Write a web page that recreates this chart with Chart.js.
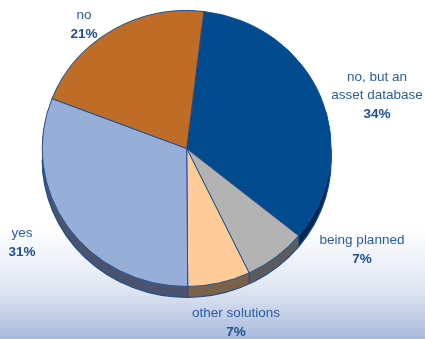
<!DOCTYPE html>
<html>
<head>
<meta charset="utf-8">
<script src="https://cdn.jsdelivr.net/npm/chart.js@4/dist/chart.umd.min.js"></script>
<style>
  html, body { margin: 0; padding: 0; }
  body {
    width: 425px; height: 339px; overflow: hidden;
    background: linear-gradient(to bottom, #ffffff 0%, #ffffff 67%, #e1e6f3 85%, #a9b9dd 100%);
  }
  #wrap { position: relative; width: 425px; height: 339px; }
</style>
</head>
<body>
<div id="wrap"><canvas id="pie" width="425" height="339"></canvas></div>
<script>
// Survey answers, clockwise from the top
const categories = ['no, but an asset database', 'being planned', 'other solutions', 'yes', 'no'];
const shares = [34, 7, 7, 31, 21];
const labelLines = [['no, but an', 'asset database'], ['being planned'], ['other solutions'], ['yes'], ['no']];
const topColors = ['#034b8f', '#b3b3b3', '#ffcc99', '#97afd8', '#bf6d26'];
const sideColors = ['#06284f', '#5c5c5c', '#7c624a', '#4a5470', '#6e4018'];
// label anchor (centre x, first-line y) for each slice
const labelPos = [[377, 77], [362, 240], [236, 313], [22, 233], [84, 15]];

const SQUASH = 0.955;   // vertical flattening of the disc
const DEPTH = 11;       // thickness of the disc edge in pixels
const EDGE = '#1d4f91';

const tiltPlugin = {
  id: 'tilt',
  beforeDatasetsDraw(chart) {
    const ctx = chart.ctx;
    const arcs = chart.getDatasetMeta(0).data;
    const cx = arcs[0].x, cy = arcs[0].y, r = arcs[0].outerRadius;
    ctx.save();
    ctx.translate(cx, cy); ctx.scale(1, SQUASH); ctx.translate(-cx, -cy);
    const d = DEPTH / SQUASH;
    // edge of the disc: stacked sectors shifted downward
    for (let k = d; k >= 0.5; k -= 0.5) {
      arcs.forEach((a, i) => {
        ctx.beginPath();
        ctx.moveTo(cx, cy + k);
        ctx.arc(cx, cy + k, r, a.startAngle, a.endAngle);
        ctx.closePath();
        ctx.fillStyle = sideColors[i];
        ctx.fill();
      });
    }
    // outline of the lower rim
    ctx.beginPath();
    ctx.arc(cx, cy + d, r, 0, Math.PI);
    ctx.strokeStyle = EDGE;
    ctx.lineWidth = 1.2;
    ctx.stroke();
    // seams between slices on the visible front
    arcs.forEach(a => {
      const ang = a.startAngle;
      const s = Math.sin(ang);
      if (s > 0) {
        const x = cx + r * Math.cos(ang), y = cy + r * s;
        ctx.beginPath();
        ctx.moveTo(x, y); ctx.lineTo(x, y + d);
        ctx.lineWidth = 1.2;
        ctx.stroke();
      }
    });
    ctx.restore();
    // flatten the top face as well
    ctx.save();
    ctx.translate(cx, cy); ctx.scale(1, SQUASH); ctx.translate(-cx, -cy);
  },
  afterDatasetsDraw(chart) {
    chart.ctx.restore();
    // slice labels
    const ctx = chart.ctx;
    ctx.save();
    ctx.textAlign = 'center';
    ctx.textBaseline = 'middle';
    categories.forEach((c, i) => {
      const [x, y] = labelPos[i];
      let yy = y;
      ctx.fillStyle = '#2b5c9e';
      ctx.font = '13.5px "Liberation Sans", Arial, sans-serif';
      labelLines[i].forEach(line => { ctx.fillText(line, x, yy); yy += 18.5; });
      ctx.fillStyle = '#1f4f8f';
      ctx.font = 'bold 13.5px "Liberation Sans", Arial, sans-serif';
      ctx.fillText(shares[i] + '%', x, yy + 0.5);
    });
    ctx.restore();
  }
};

new Chart(document.getElementById('pie'), {
  type: 'pie',
  data: {
    labels: categories,
    datasets: [{
      data: shares,
      backgroundColor: topColors,
      borderColor: EDGE,
      borderWidth: 1,
      borderAlign: 'center'
    }]
  },
  options: {
    responsive: false,
    animation: false,
    rotation: 6.8,
    layout: { padding: { left: 41.7, right: 93.3, top: 3.5, bottom: 45.5 } },
    plugins: { legend: { display: false }, tooltip: { enabled: false } }
  },
  plugins: [tiltPlugin]
});
</script>
</body>
</html>
